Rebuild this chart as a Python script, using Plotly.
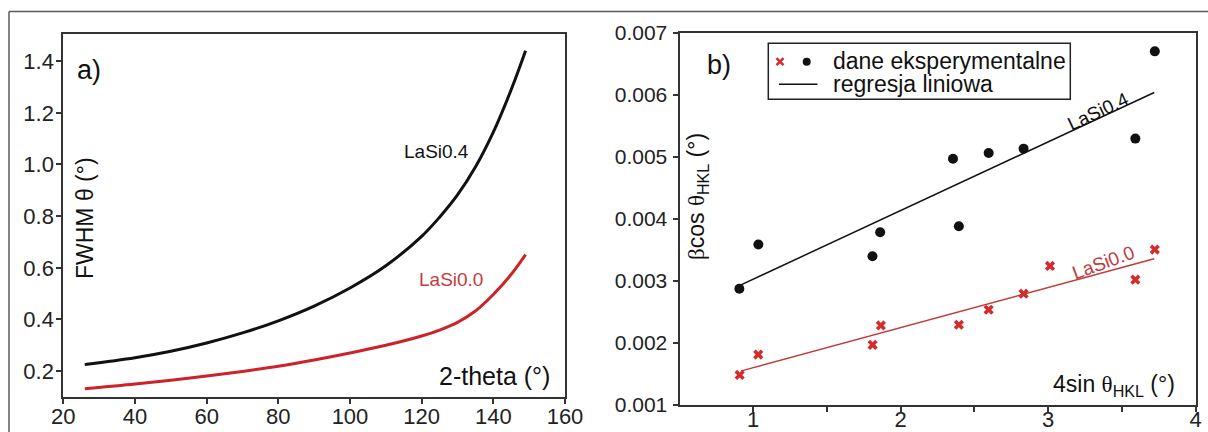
import plotly.graph_objects as go

# ---------------- data ----------------
# panel a) FWHM vs 2-theta
two_theta = [26, 40, 50, 60, 70, 80, 90, 100, 110, 120, 125, 130, 135, 140, 145, 149]
fwhm_lasi04 = [0.226, 0.252, 0.277, 0.309, 0.348, 0.395, 0.452, 0.522, 0.608, 0.722, 0.796, 0.882, 0.990, 1.125, 1.290, 1.440]
fwhm_lasi00 = [0.132, 0.150, 0.165, 0.181, 0.199, 0.219, 0.243, 0.270, 0.300, 0.336, 0.359, 0.389, 0.433, 0.497, 0.575, 0.651]

# panel b) Williamson-Hall
sin_x_04 = [0.906, 1.035, 1.809, 1.861, 2.355, 2.395, 2.597, 2.834, 3.592, 3.724]
beta_04 = [0.002876, 0.003588, 0.003399, 0.003787, 0.004973, 0.003884, 0.005065, 0.005135, 0.005297, 0.006704]
sin_x_00 = [0.908, 1.034, 1.810, 1.866, 2.395, 2.597, 2.834, 3.013, 3.592, 3.724]
beta_00 = [0.001485, 0.001814, 0.001970, 0.002283, 0.002294, 0.002536, 0.002795, 0.003243, 0.003022, 0.003507]
fit_x_04 = [0.91, 3.72]
fit_y_04 = [0.00293, 0.00604]
fit_x_00 = [0.92, 3.72]
fit_y_00 = [0.00155, 0.00336]

a_ticks = [20, 40, 60, 80, 100, 120, 140, 160]
a_yticks = [0.2, 0.4, 0.6, 0.8, 1.0, 1.2, 1.4]
b_xticks = [1, 2, 3, 4]
b_yticks = [0.001, 0.002, 0.003, 0.004, 0.005, 0.006, 0.007]

# ---------------- style ----------------
W, H = 1208, 432
FONT = "Liberation Sans, Arial, sans-serif"
BLACK = "#111111"
RED = "#cc2229"
RED_TXT = "#c23b3f"
AXC = "#333333"


def px_x(p):
    return p / W


def px_y(p):
    return 1 - p / H


fig = go.Figure()

# panel a curves
fig.add_trace(go.Scatter(x=two_theta, y=fwhm_lasi04, mode="lines", line=dict(color=BLACK, width=3, shape="spline"),
                         xaxis="x", yaxis="y", showlegend=False, hoverinfo="skip"))
fig.add_trace(go.Scatter(x=two_theta, y=fwhm_lasi00, mode="lines", line=dict(color=RED, width=3, shape="spline"),
                         xaxis="x", yaxis="y", showlegend=False, hoverinfo="skip"))

# panel b fits and points
fig.add_trace(go.Scatter(x=fit_x_04, y=fit_y_04, mode="lines", line=dict(color=BLACK, width=1.5),
                         xaxis="x2", yaxis="y2", showlegend=False, hoverinfo="skip"))
fig.add_trace(go.Scatter(x=fit_x_00, y=fit_y_00, mode="lines", line=dict(color="#c23a3a", width=1.5),
                         xaxis="x2", yaxis="y2", showlegend=False, hoverinfo="skip"))
fig.add_trace(go.Scatter(x=sin_x_04, y=beta_04, mode="markers", marker=dict(color=BLACK, size=10, symbol="circle"),
                         xaxis="x2", yaxis="y2", showlegend=False, hoverinfo="skip"))
fig.add_trace(go.Scatter(x=sin_x_00, y=beta_00, mode="markers", marker=dict(color="#d42b2b", size=9, symbol="x"),
                         xaxis="x2", yaxis="y2", showlegend=False, hoverinfo="skip"))

axis_common = dict(showline=True, mirror=True, linecolor=AXC, linewidth=2, ticks="outside", ticklen=5,
                   tickwidth=1.5, tickcolor=AXC, showgrid=False, zeroline=False,
                   tickfont=dict(family=FONT, size=22, color="#222222"), automargin=False)

fig.update_layout(
    width=W, height=H,
    margin=dict(l=0, r=0, t=0, b=0),
    paper_bgcolor="white", plot_bgcolor="white",
    xaxis=dict(domain=[px_x(63.3), px_x(565)], range=[20, 160], tickvals=a_ticks, anchor="y",
               ticklabelstandoff=-6, **axis_common),
    yaxis=dict(domain=[px_y(397), px_y(34)], range=[0.1, 1.505], tickvals=a_yticks, tickformat=".1f", anchor="x",
               ticklabelstandoff=-2, **axis_common),
    xaxis2=dict(domain=[px_x(679.5), px_x(1195.5)], range=[0.5, 4], tickvals=b_xticks, anchor="y2",
                minor=dict(tickvals=[1.5, 2.5, 3.5], ticks="outside", ticklen=5, tickwidth=1.5, tickcolor=AXC),
                ticklabelstandoff=-11,
                **{**axis_common, "tickfont": dict(family=FONT, size=22, color="#222222")}),
    yaxis2=dict(domain=[px_y(405), px_y(33)], range=[0.001, 0.007], tickvals=b_yticks, tickformat=".3f",
                anchor="x2", ticklabelstandoff=1,
                **{**axis_common, "tickfont": dict(family=FONT, size=21, color="#222222")}),
)

ann = []


def add_text(text, x, y, size, color="#111111", xanchor="center", yanchor="middle", angle=0,
             xref="paper", yref="paper", family=FONT):
    ann.append(dict(text=text, x=x, y=y, xref=xref, yref=yref, showarrow=False, xanchor=xanchor,
                    yanchor=yanchor, textangle=angle, font=dict(family=family, size=size, color=color)))


# panel letters
add_text("a)", px_x(75), px_y(70), 27, xanchor="left")
add_text("b)", px_x(705), px_y(65), 27, xanchor="left")

# panel a labels
add_text("LaSi0.4", 124.2, 1.05, 19, xref="x", yref="y")
add_text("LaSi0.0", 128.1, 0.554, 19, color=RED_TXT, xref="x", yref="y")
add_text("2-theta (°)", px_x(552), px_y(376), 25, xanchor="right")
add_text("FWHM θ (°)", px_x(85), px_y(218), 23, angle=-90)

# panel b labels
add_text("LaSi0.4", 3.34, 0.005727, 19, angle=-25, xref="x2", yref="y2")
add_text("LaSi0.0", 3.375, 0.003306, 19, color=RED_TXT, angle=-20, xref="x2", yref="y2")
add_text('4sin <span style="font-family:Liberation Serif">θ</span><sub>HKL</sub> (°)',
         px_x(1177), px_y(385), 23, xanchor="right")
add_text('<span style="font-family:Liberation Serif">β</span>cos <span style="font-family:Liberation Serif">θ</span><sub>HKL</sub> (°)',
         px_x(697), px_y(197), 23, angle=-90)

# legend text
add_text("dane eksperymentalne", px_x(831), px_y(61), 23, xanchor="left")
add_text("regresja liniowa", px_x(831), px_y(84), 23, xanchor="left")

fig.update_layout(annotations=ann)

shapes = []
# outer screenshot frame
shapes.append(dict(type="line", xref="paper", yref="paper", x0=px_x(9), x1=1, y0=px_y(11.5), y1=px_y(11.5),
                   line=dict(color="#5a5a5a", width=1.5)))
shapes.append(dict(type="line", xref="paper", yref="paper", x0=px_x(9), x1=px_x(9), y0=0, y1=px_y(11.5),
                   line=dict(color="#5a5a5a", width=1.5)))
# legend box
shapes.append(dict(type="rect", xref="paper", yref="paper", x0=px_x(768.3), x1=px_x(1070.3),
                   y0=px_y(99.3), y1=px_y(43.3), line=dict(color="#222222", width=1.5), fillcolor="white"))
# legend red x
for dx in (-1, 1):
    shapes.append(dict(type="line", xref="paper", yref="paper", x0=px_x(780 - 3.5), x1=px_x(780 + 3.5),
                       y0=px_y(61.7 - 3.5 * dx), y1=px_y(61.7 + 3.5 * dx), line=dict(color="#d42b2b", width=2.5)))
# legend black dot
shapes.append(dict(type="circle", xref="paper", yref="paper", x0=px_x(802.7), x1=px_x(810.7),
                   y0=px_y(65.7), y1=px_y(57.7), line=dict(color=BLACK, width=0), fillcolor=BLACK))
# legend line
shapes.append(dict(type="line", xref="paper", yref="paper", x0=px_x(779), x1=px_x(817.5), y0=px_y(84.3),
                   y1=px_y(84.3), line=dict(color=BLACK, width=1.5)))
fig.update_layout(shapes=shapes)

fig.write_html("out.html", config={"displayModeBar": False},
               post_script="document.body.style.margin='0';document.body.style.overflow='hidden';")
